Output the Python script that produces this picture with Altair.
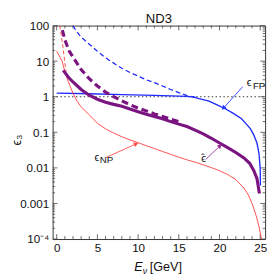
import altair as alt
import pandas as pd

# ---------------- data ----------------
fp_E = [0, 4, 8, 12, 16, 16.8, 17.5, 18.7, 19.7, 20.7, 21.7, 22.7, 23.3, 23.8, 24.2, 24.6, 24.85, 25.0, 25.02]
fp_v = [1.26, 1.21, 1.15, 1.09, 1.02, 0.98, 0.88, 0.75, 0.59, 0.46, 0.34, 0.24, 0.17, 0.125, 0.085, 0.05, 0.025, 0.009, 0.0032]

fpd_E = [2.0, 2.5, 3, 4, 5, 6, 7, 8, 9, 10, 11, 12, 13, 14, 15, 16, 17]
fpd_v = [100, 65, 48, 30, 19, 12.5, 8.8, 6.3, 4.8, 3.8, 3.0, 2.5, 2.0, 1.6, 1.3, 1.08, 0.97]

hat_E = [0.8, 1.5, 2, 3, 4, 5, 6, 7, 8, 9, 10, 11, 12, 13, 14, 15, 16, 17, 18, 19, 20, 21, 22, 23, 23.7, 24.2, 24.6, 24.9]
hat_v = [5.5, 3.4, 2.6, 1.6, 1.1, 0.85, 0.70, 0.61, 0.54, 0.45, 0.38, 0.32, 0.28, 0.24, 0.20, 0.17, 0.145,
         0.115, 0.09, 0.068, 0.05, 0.037, 0.027, 0.019, 0.0135, 0.0085, 0.005, 0.0019]

hatd_E = [0.7, 1.0, 1.5, 2, 3, 4, 5, 6, 7, 8, 9, 10, 11, 12, 13, 14, 15]
hatd_v = [75, 40, 20, 13, 5.8, 3.2, 2.0, 1.35, 1.0, 0.76, 0.6, 0.48, 0.40, 0.33, 0.28, 0.235, 0.2]

np_E = [0, 0.4, 0.7, 1.0, 1.3, 1.6, 2, 2.5, 3, 3.5, 4, 5, 6, 7, 8, 9, 10, 11, 12, 13, 14, 15, 16, 17, 18,
        19, 20, 21, 22, 23, 23.5, 24, 24.5, 24.8, 25.0, 25.15]
np_v = [19, 13, 9.5, 5.0, 3.2, 2.1, 1.25, 0.75, 0.52, 0.40, 0.31, 0.18, 0.125, 0.095, 0.075, 0.061, 0.051,
        0.042, 0.035, 0.029, 0.024, 0.020, 0.0168, 0.0145, 0.0122, 0.0102, 0.0083, 0.0065, 0.0047, 0.0027,
        0.0018, 0.001, 0.00045, 0.00025, 0.00015, 0.0001]

npd_E = [0.38, 0.55, 0.71, 0.9, 1.15]
npd_v = [100, 55, 32, 14, 5.0]

x_ticks = [0, 5, 10, 15, 20, 25]
x_minor = [v for v in range(1, 26) if v % 5 != 0]
y_ticks = [0.0001, 0.001, 0.01, 0.1, 1, 10, 100]
y_minor = [m * 10.0 ** d for d in range(-4, 2) for m in range(2, 10)]

# annotations: arrow start (E, v), arrow end (E, v)
ann_names = ["FP", "NP", "hat"]
ann_E0 = [22.86, 6.07, 18.3]
ann_v0 = [1.92, 0.0197, 0.0174]
ann_E1 = [20.48, 9.76, 20.08]
ann_v1 = [0.48, 0.0474, 0.0416]
ann_angle = [222, 66, 50]
ann_color = ["#2233ff", "#ff4a4a", "#9b30a0"]

lab_text = ["ϵ", "FP", "ϵ", "NP", "ϵ", "ˆ"]
lab_E = [23.35, 24.1, 4.65, 5.3, 17.75, 17.75]
lab_v = [2.45, 2.0, 0.0185, 0.0165, 0.0172, 0.0205]
lab_size = [11, 10, 11, 10, 11, 10]

W, H = 219, 220
FONT = "Liberation Sans"
BLUE = "#1f2bff"
PURPLE = "#7a1480"
RED = "#ff3b3b"

xs = alt.Scale(domain=[-0.5, 25.6], nice=False, zero=False)
ys = alt.Scale(type="log", domain=[0.0001, 100], nice=False)
AX = alt.Axis(values=x_ticks, title=None, ticks=False, domain=False, grid=False,
              labelFont=FONT, labelFontSize=12, labelColor="#111", labelPadding=4, labelFlush=False)
AY = alt.Axis(values=y_ticks, title=None, ticks=False, domain=False, grid=False,
              labelFont=FONT, labelFontSize=12, labelColor="#111", labelPadding=4, labelFlush=False,
              labelExpr="datum.value < 0.0005 ? '10⁻⁴' : format(datum.value, '~g')")


def X(f):
    return alt.X(f, scale=xs, axis=AX)


def Y(f):
    return alt.Y(f, scale=ys, axis=AY)


def line(E, v, color, width, dash=None):
    df = pd.DataFrame({"E": E, "v": v})
    kw = dict(color=color, strokeWidth=width, clip=True)
    if dash:
        kw["strokeDash"] = dash
    return alt.Chart(df).mark_line(**kw).encode(x=X("E:Q"), y=Y("v:Q"), order=alt.Order("E:Q"))


dotted = alt.Chart(pd.DataFrame({"E": [-0.5, 25.6], "v": [1, 1]})).mark_line(
    color="#333", strokeWidth=1, strokeDash=[1.5, 2.5], clip=True
).encode(x=X("E:Q"), y=Y("v:Q"))


def xtick_rules(vals, y0, y1):
    return alt.Chart(pd.DataFrame({"E": vals})).mark_rule(color="#444", strokeWidth=0.8).encode(
        x=X("E:Q"), y=alt.value(y0), y2=alt.value(y1))


def ytick_rules(vals, x0, x1):
    return alt.Chart(pd.DataFrame({"v": vals})).mark_rule(color="#444", strokeWidth=0.8).encode(
        y=Y("v:Q"), x=alt.value(x0), x2=alt.value(x1))


ticks = [
    xtick_rules(x_ticks, H, H - 5), xtick_rules(x_minor, H, H - 3),
    xtick_rules(x_ticks, 0, 5), xtick_rules(x_minor, 0, 3),
    ytick_rules(y_ticks, 0, 5), ytick_rules(y_minor, 0, 2.5),
    ytick_rules(y_ticks, W, W - 5), ytick_rules(y_minor, W, W - 2.5),
]

curves = [
    line(fpd_E, fpd_v, BLUE, 1.3, [5, 3]),
    line(fp_E, fp_v, BLUE, 1.4),
    line(npd_E, npd_v, RED, 0.9, [4, 2.5]),
    line(np_E, np_v, RED, 0.9),
    line(hatd_E, hatd_v, PURPLE, 3.2, [7, 4]),
    line(hat_E, hat_v, PURPLE, 3.2),
]

ann = pd.DataFrame({"name": ann_names, "E0": ann_E0, "v0": ann_v0, "E1": ann_E1, "v1": ann_v1,
                    "angle": ann_angle, "color": ann_color})
arrows = alt.Chart(ann).mark_rule(strokeWidth=0.9).encode(
    x=X("E0:Q"), y=Y("v0:Q"), x2="E1:Q", y2="v1:Q", color=alt.Color("color:N", scale=None))
heads = alt.Chart(ann).mark_point(shape="triangle-up", filled=True, size=28, opacity=1).encode(
    x=X("E1:Q"), y=Y("v1:Q"),
    angle=alt.Angle("angle:Q", scale=None), color=alt.Color("color:N", scale=None))

labels = alt.Chart(pd.DataFrame({"t": lab_text, "E": lab_E, "v": lab_v, "s": lab_size})).mark_text(
    font=FONT, color="#111", align="left", baseline="middle"
).encode(x=X("E:Q"), y=Y("v:Q"), text="t:N", size=alt.Size("s:Q", scale=None))

one = pd.DataFrame({"a": [0]})


def txt(s, x, y, size, angle=0, italic=False, align="left", baseline="alphabetic"):
    kw = dict(text=s, font=FONT, fontSize=size, color="#111", align=align, baseline=baseline, angle=angle)
    if italic:
        kw["fontStyle"] = "italic"
    return alt.Chart(one).mark_text(**kw).encode(x=alt.value(x), y=alt.value(y))


texts = [
    txt("ND3", W / 2, -3, 13.5, align="center"),
    txt("ϵ₃", -37, H / 2 + 8, 13, angle=270, align="center", baseline="middle"),
    txt("E", 84, 253, 13, italic=True),
    txt("ν", 93, 256, 9, italic=True),
    txt("[GeV]", 100, 253, 13),
]

chart = alt.layer(dotted, *ticks, *curves, arrows, heads, labels, *texts).properties(
    width=W, height=H, autosize=alt.AutoSizeParams(type="none"),
    padding={"left": 46, "top": 14, "right": 4, "bottom": 35},
).configure_view(stroke="#333", strokeWidth=1)

chart.save("out.html", embed_options={"renderer": "svg", "actions": False})
